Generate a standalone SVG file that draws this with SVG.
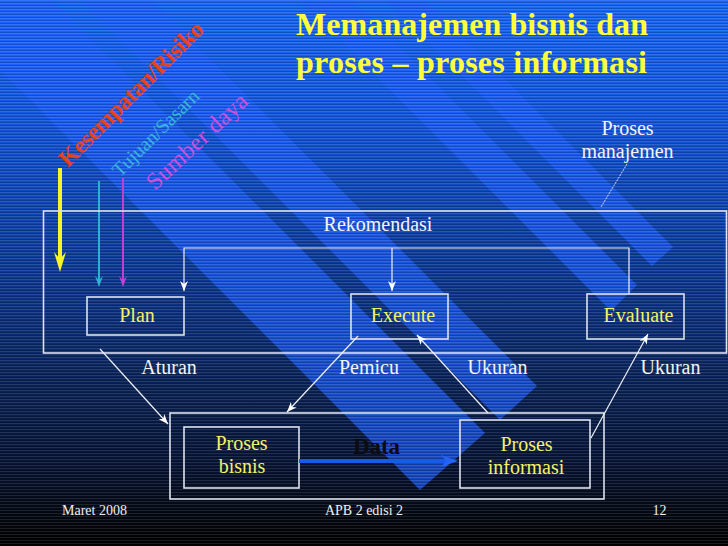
<svg xmlns="http://www.w3.org/2000/svg" width="728" height="546" viewBox="0 0 728 546">
  <defs>
    <linearGradient id="bg" x1="0" y1="0" x2="0" y2="1">
      <stop offset="0" stop-color="#1868f8"/>
      <stop offset="0.2" stop-color="#1458e4"/>
      <stop offset="0.4" stop-color="#0f44b0"/>
      <stop offset="0.55" stop-color="#0c3486"/>
      <stop offset="0.7" stop-color="#0a2458"/>
      <stop offset="0.85" stop-color="#071435"/>
      <stop offset="0.95" stop-color="#03070f"/>
      <stop offset="1" stop-color="#000000"/>
    </linearGradient>
    <pattern id="scan" width="4" height="3" patternUnits="userSpaceOnUse">
      <rect x="0" y="0" width="4" height="1" fill="#ffffff" opacity="0.10"/>
      <rect x="0" y="2" width="4" height="1" fill="#000000" opacity="0.20"/>
    </pattern>
    <marker id="ah" markerUnits="userSpaceOnUse" markerWidth="10" markerHeight="8" refX="10" refY="4" orient="auto" viewBox="0 0 10 8">
      <path d="M0,0 L10,4 L0,8 L3,4 Z" fill="#ffffff"/>
    </marker>
  </defs>
  <style>
    .box { fill: none; stroke: #dde2ee; stroke-width: 1.6; }
    .con { fill: none; stroke: #eef0f6; stroke-width: 1.2; }
    .band { fill: #1f5fff; opacity: 0.7; }
    .t { font-family: "Liberation Serif", "Times New Roman", serif; }
    .w { fill: #f4f4f4; font-size: 20px; }
    .y { fill: #f2f268; font-size: 20px; }
    .ft { fill: #f0f0f0; font-size: 14px; }
    .title { fill: #ffff3a; font-size: 32px; font-weight: bold; }
  </style>

  <!-- background -->
  <rect x="0" y="0" width="728" height="546" fill="url(#bg)"/>
  <g id="bands">
    <polygon class="band" points="485,433 420,490 -300,-230 -250,-302"/>
    <polygon class="band" points="537,386 500,420 -100,-180 -29,-180"/>
    <polygon class="band" points="637,285 611,311 100,-200 152,-200"/>
    <polygon class="band" points="673,247 652,266 186,-200 226,-200"/>
  </g>
  <rect x="0" y="0" width="728" height="546" fill="url(#scan)"/>

  <!-- title -->
  <g id="title" class="t">
    <text class="title" x="296" y="35" textLength="352" lengthAdjust="spacing">Memanajemen bisnis dan</text>
    <text class="title" x="296" y="73" textLength="351" lengthAdjust="spacing">proses – proses informasi</text>
  </g>

  <!-- input labels and arrows -->
  <g id="inputs" class="t">
    <text transform="translate(68,168) rotate(-45)" font-size="24" font-weight="bold" fill="#e5421e" textLength="194" lengthAdjust="spacing">Kesempatan/Risiko</text>
    <text transform="translate(120,178) rotate(-45)" font-size="20" fill="#3ab4da" textLength="114" lengthAdjust="spacing">Tujuan/Sasarn</text>
    <text transform="translate(155,191) rotate(-43)" font-size="24" fill="#cc50dc" textLength="129" lengthAdjust="spacing">Sumber daya</text>
    <line x1="60" y1="168" x2="60" y2="262" stroke="#f5f52a" stroke-width="4"/>
    <path d="M54,252 L60,272 L66,252 L60,259 Z" fill="#f5f52a"/>
    <line x1="99" y1="181" x2="99" y2="280" stroke="#30b0d0" stroke-width="2"/>
    <path d="M95,276 L99,287 L103,276 L99,280 Z" fill="#30b0d0"/>
    <line x1="123" y1="178" x2="123" y2="280" stroke="#c040d0" stroke-width="2"/>
    <path d="M119,276 L123,287 L127,276 L123,280 Z" fill="#c040d0"/>
  </g>

  <!-- management process container -->
  <g id="proses-manajemen" class="t">
    <rect class="box" x="43.5" y="211" width="683" height="142"/>
    <text class="w" x="627.5" y="135" text-anchor="middle">Proses</text>
    <text class="w" x="627.5" y="158" text-anchor="middle">manajemen</text>
    <line x1="627" y1="164" x2="601" y2="207" stroke="#e8ecf4" stroke-width="0.9" stroke-dasharray="2,1"/>
    <text class="w" x="378" y="231" text-anchor="middle">Rekomendasi</text>
  </g>

  <g id="plan" class="t">
    <rect class="box" x="87" y="297" width="97" height="38"/>
    <text class="y" x="137" y="322" text-anchor="middle">Plan</text>
  </g>
  <g id="execute" class="t">
    <rect class="box" x="351" y="294" width="97" height="45"/>
    <text class="y" x="403" y="322" text-anchor="middle">Execute</text>
  </g>
  <g id="evaluate" class="t">
    <rect class="box" x="587" y="294" width="97" height="45"/>
    <text class="y" x="638.5" y="322" text-anchor="middle">Evaluate</text>
  </g>

  <!-- business / information processes container -->
  <g id="operasional">
    <rect class="box" x="170" y="413" width="434" height="86"/>
  </g>
  <g id="proses-bisnis" class="t">
    <rect class="box" x="184" y="427" width="115" height="61"/>
    <text class="y" x="241.5" y="450" text-anchor="middle">Proses</text>
    <text class="y" x="242" y="473" text-anchor="middle">bisnis</text>
  </g>
  <g id="proses-informasi" class="t">
    <rect class="box" x="460" y="420" width="130" height="68"/>
    <text class="y" x="526.5" y="451" text-anchor="middle">Proses</text>
    <text class="y" x="526" y="474" text-anchor="middle">informasi</text>
  </g>

  <!-- connectors -->
  <g id="connectors">
    <polyline class="con" points="629,294 629,248 184,248 184,291" marker-end="url(#ah)"/>
    <line class="con" x1="392" y1="248" x2="392" y2="291" marker-end="url(#ah)"/>
    <line class="con" x1="100" y1="349" x2="168" y2="424" marker-end="url(#ah)"/>
    <line class="con" x1="358" y1="336" x2="287" y2="412" marker-end="url(#ah)"/>
    <line class="con" x1="488" y1="413" x2="417" y2="335" marker-end="url(#ah)"/>
    <line class="con" x1="591" y1="438" x2="648" y2="334" marker-end="url(#ah)"/>
    <line x1="299" y1="461" x2="448" y2="461" stroke="#1a5ae8" stroke-width="4"/>
    <path d="M441,455 L458,461 L441,467 L446,461 Z" fill="#2464f4"/>
  </g>

  <!-- connector labels -->
  <g id="labels" class="t">
    <text class="w" x="169" y="374" text-anchor="middle">Aturan</text>
    <text class="w" x="369" y="374" text-anchor="middle">Pemicu</text>
    <text class="w" x="497.5" y="374" text-anchor="middle">Ukuran</text>
    <text class="w" x="670.5" y="374" text-anchor="middle">Ukuran</text>
    <text x="353" y="454" font-size="23" font-weight="bold" fill="#0c0c10" textLength="47" lengthAdjust="spacing">Data</text>
  </g>

  <!-- footer -->
  <g id="footer" class="t">
    <text class="ft" x="62" y="515">Maret 2008</text>
    <text class="ft" x="364" y="515" text-anchor="middle">APB 2 edisi 2</text>
    <text class="ft" x="659.5" y="515" text-anchor="middle">12</text>
  </g>
</svg>
